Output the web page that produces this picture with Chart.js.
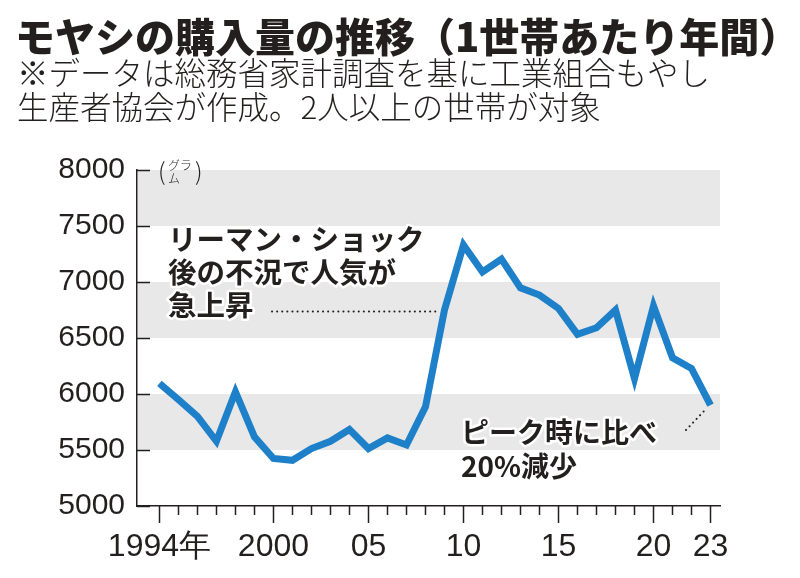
<!DOCTYPE html>
<html>
<head>
<meta charset="utf-8">
<script src="https://cdn.jsdelivr.net/npm/chart.js@4.4.1/dist/chart.umd.min.js"></script>
<style>
  html, body { margin: 0; padding: 0; background: #fff; }
  canvas { display: block; }
</style>
</head>
<body>
<canvas id="myChart" width="800" height="578"></canvas>
<script>
// 1世帯あたり年間のモヤシ購入量（グラム）
const years = [1994, 1995, 1996, 1997, 1998, 1999, 2000, 2001, 2002, 2003,
  2004, 2005, 2006, 2007, 2008, 2009, 2010, 2011, 2012, 2013,
  2014, 2015, 2016, 2017, 2018, 2019, 2020, 2021, 2022, 2023];
const grams = [6095, 5950, 5800, 5578, 6020, 5617, 5424, 5408, 5513, 5578,
  5683, 5513, 5608, 5545, 5885, 6750, 7330, 7090, 7205, 6948,
  6883, 6764, 6532, 6591, 6749, 6138, 6787, 6323, 6228, 5900];

const xTickYears = [1994, 2000, 2005, 2010, 2015, 2020, 2023];
const xTickLabels = ['1994年', '2000', '05', '10', '15', '20', '23'];
const bands = [[5500, 6000], [6500, 7000], [7500, 8000]];

const titleText = 'モヤシの購入量の推移（1世帯あたり年間）';
const noteLines = ['※データは総務省家計調査を基に工業組合もやし', '生産者協会が作成。2人以上の世帯が対象'];
const noteA = ['リーマン・ショック', '後の不況で人気が', '急上昇'];
const noteB = ['ピーク時に比べ', '20%減少'];

const ink = '#231f1e';
const jp = '"Noto Sans CJK JP", "Noto Sans", sans-serif';
const num = '"Liberation Sans Narrow", "Liberation Sans", sans-serif';

const bandPlugin = {
  id: 'bands',
  beforeDatasetsDraw(chart) {
    const { ctx, chartArea, scales } = chart;
    ctx.save();
    ctx.fillStyle = '#e8e8e8';
    bands.forEach(b => {
      const y1 = scales.y.getPixelForValue(b[1]);
      const y0 = scales.y.getPixelForValue(b[0]);
      ctx.fillRect(chartArea.left + 1, y1, chartArea.right - chartArea.left - 1, y0 - y1);
    });
    ctx.restore();
  }
};

const decoPlugin = {
  id: 'deco',
  afterDraw(chart) {
    const { ctx, chartArea, scales } = chart;
    const xs = scales.x, ys = scales.y;
    ctx.save();
    ctx.strokeStyle = ink;
    ctx.lineWidth = 1.5;
    // y ticks point inward
    for (let v = 5000; v <= 8000; v += 500) {
      const y = Math.round(ys.getPixelForValue(v)) + 0.5;
      ctx.beginPath();
      ctx.moveTo(chartArea.left, y);
      ctx.lineTo(chartArea.left + 13, y);
      ctx.stroke();
    }
    // x ticks, longer at labelled years
    years.forEach(yr => {
      const x = Math.round(xs.getPixelForValue(yr)) + 0.5;
      const len = xTickYears.includes(yr) ? 17 : 9;
      ctx.beginPath();
      ctx.moveTo(x, chartArea.bottom);
      ctx.lineTo(x, chartArea.bottom + len);
      ctx.stroke();
    });

    // title + source note
    ctx.fillStyle = ink;
    ctx.textBaseline = 'middle';
    ctx.textAlign = 'left';
    ctx.font = '900 40px ' + jp;
    ctx.fillText(titleText, 15, 37);
    ctx.font = '300 31.5px ' + jp;
    ctx.fillText(noteLines[0], 17, 73);
    ctx.fillText(noteLines[1], 17, 107);

    // unit (グラム)
    ctx.font = '300 24px ' + jp;
    ctx.fillText('(', 158, 171);
    ctx.fillText(')', 195, 171);
    ctx.font = '300 12px ' + jp;
    ctx.fillText('グラ', 168, 165);
    ctx.fillText('ム', 168, 178);

    // annotations with white halo
    const halo = (txt, x, y) => {
      ctx.strokeStyle = '#fff';
      ctx.lineWidth = 5;
      ctx.lineJoin = 'round';
      ctx.strokeText(txt, x, y);
      ctx.fillText(txt, x, y);
    };
    ctx.font = 'bold 28.5px ' + jp;
    ctx.fillStyle = ink;
    noteA.forEach((t, i) => halo(t, 168, 239 + i * 33));
    ctx.font = 'bold 28px ' + jp;
    noteB.forEach((t, i) => halo(t, 461, 432 + i * 34));

    // dotted leaders
    ctx.strokeStyle = ink;
    ctx.lineWidth = 2;
    ctx.lineCap = 'round';
    ctx.setLineDash([0.1, 5]);
    ctx.beginPath();
    ctx.moveTo(272, 311.5);
    ctx.lineTo(437, 311.5);
    ctx.stroke();
    ctx.beginPath();
    ctx.moveTo(686, 430);
    ctx.lineTo(706, 409);
    ctx.stroke();
    ctx.restore();
  }
};

function createChart() {
  const ctx = document.getElementById('myChart').getContext('2d');
  return new Chart(ctx, {
    type: 'line',
    data: {
      datasets: [{
        data: years.map((yr, i) => ({ x: yr, y: grams[i] })),
        borderColor: '#1e80c8',
        borderWidth: 7,
        borderJoinStyle: 'miter',
        pointRadius: 0,
        tension: 0,
        fill: false
      }]
    },
    options: {
      responsive: false,
      animation: false,
      devicePixelRatio: 1,
      layout: { padding: { top: 170, right: 80, left: 0, bottom: 0 } },
      plugins: { legend: { display: false }, tooltip: { enabled: false } },
      scales: {
        x: {
          type: 'linear',
          min: 1992.82,
          max: 2023.5,
          afterBuildTicks: s => { s.ticks = xTickYears.map(v => ({ value: v })); },
          afterFit: s => { s.height = 72; },
          grid: { display: false, drawTicks: false },
          border: { display: true, color: ink, width: 1.5 },
          ticks: {
            autoSkip: false,
            maxRotation: 0,
            padding: 22,
            color: ink,
            font: { family: num, size: 32 },
            callback: v => xTickLabels[xTickYears.indexOf(v)]
          }
        },
        y: {
          min: 5000,
          max: 8000,
          afterFit: s => { s.width = 137; },
          grid: { display: false, drawTicks: false },
          border: { display: true, color: ink, width: 1.5 },
          ticks: {
            stepSize: 500,
            padding: 12,
            color: ink,
            font: { family: num, size: 30 },
            callback: v => String(v)
          }
        }
      }
    },
    plugins: [bandPlugin, decoPlugin]
  });
}

let chart = createChart();
</script>
</body>
</html>
